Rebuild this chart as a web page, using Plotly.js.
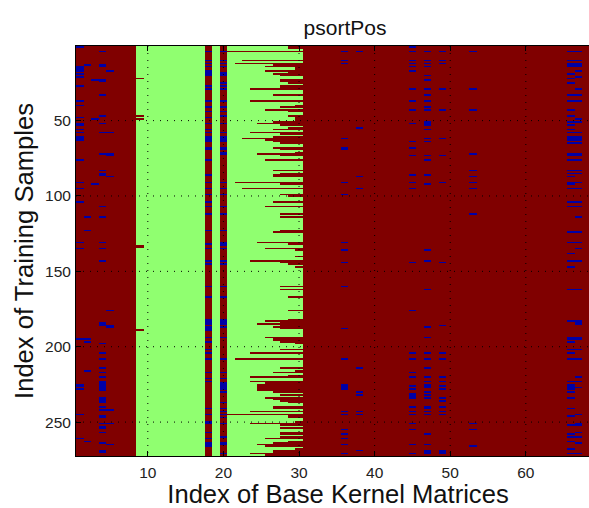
<!DOCTYPE html>
<html><head><meta charset="utf-8">
<script src="https://cdn.plot.ly/plotly-3.0.1.min.js"></script>
<style>html,body{margin:0;padding:0;background:#fff;overflow:hidden}</style></head>
<body><div style="width:589px;height:508px;overflow:hidden"><div id="chart" style="width:600px;height:508px"></div></div>
<script>
const nRows = 272, nCols = 68;
const xTicks = [10,20,30,40,50,60];
const yTicks = [50,100,150,200,250];
const greenCols = [9,10,11,12,13,14,15,16,17,19,21,22,23,24,25,26,27,28,29,30];
// rows in the 21-30 band where red begins, and the column it begins at
const cutRows = [1,2,4,10,12,13,14,15,16,17,18,19,20,23,24,25,27,28,29,33,37,40,41,43,44,47,48,49,50,51,52,53,55,56,58,59,61,62,63,64,65,68,69,71,72,73,76,83,85,86,87,91,92,95,99,100,104,107,112,114,123,124,131,132,135,136,140,143,144,145,147,160,162,167,176,182,183,184,185,186,187,188,194,195,196,197,198,202,204,208,214,216,217,219,220,223,224,225,226,227,228,229,230,232,234,235,236,237,240,241,243,245,246,247,250,251,252,254,257,258,260,261,263,264,265,266,268,269,270,271,272];
const cutCols = [29,29,21,23,22,27,26,30,30,26,29,27,28,28,28,29,28,28,24,27,24,30,28,26,29,29,30,30,30,27,25,28,29,27,24,28,27,23,26,27,28,27,28,30,25,28,26,27,28,27,27,22,28,23,28,29,27,26,28,28,28,27,25,29,26,30,30,24,28,29,30,28,28,29,29,29,26,28,25,28,27,28,26,27,27,28,30,28,24,22,28,30,27,29,24,24,26,25,25,25,25,25,27,28,26,27,28,29,27,27,24,21,29,29,30,24,28,28,28,28,28,26,29,27,25,26,30,27,27,24,26];
const col9Red = [22,47,49,133,134,189];
const blue1 = [1,14,15,16,17,19,21,27,37,40,48,52,53,56,58,61,62,63,76,91,95,104,131,135,195,225,226,228,245,261];
const blue2 = [13,114,123,195,197,216,263];
const blue3 = [23,49,92];
const blue4 = [4,13,14,23,24,33,47,52,58,72,83,85,86,107,114,131,135,143,184,185,186,198,204,208,214,217,220,223,224,225,226,227,228,229,234,235,236,237,240,242,246,247,251,253,254,257,264,269,270];
const blue5 = [17,58,72,73,87,176,186,187,242,251,265];
const blue18 = [4,10,12,14,17,18,19,20,27,29,37,41,44,48,52,56,58,61,62,63,64,68,69,76,86,91,95,99,104,107,112,123,132,135,143,145,160,167,182,183,184,185,187,188,189,194,197,202,204,208,217,221,223,241,245,250,251,257,261,264,265,266];
const blue20 = [4,10,12,14,18,19,20,25,27,29,37,41,44,47,52,58,61,62,63,64,68,69,71,72,91,95,99,107,112,123,131,132,133,135,143,145,160,167,182,183,184,185,187,194,208,217,221,224,225,226,227,228,230,237,241,243,245,247,251,260,264,265,271];
const blue36 = [4,10,12,62,68,69,91,99,131,136,144,160,188,208,225,226,227,228,243,245,255,258,261,265,271];
const blue38 = [4,55,87,95,214,230,232,243,245,269];
const blue45 = [1,4,10,12,14,17,29,37,43,52,64,68,73,86,91,95,144,176,204,208,217,220,226,228,231,232,233,234,240,243,245,251,255,265,271];
const blue47 = [4,10,12,14,20,23,29,33,37,41,43,51,52,53,56,62,64,73,76,86,92,136,143,162,187,194,204,208,214,220,223,225,226,227,230,232,234,240,241,243,245,258,265,269,270,271];
const blue49 = [4,10,12,29,43,62,73,91,144,186,204,208,220,223,226,228,234,236,240,243,245,269,270,271];
const blue53 = [4,29,43,72,83,87,91,95,112,251,255,266];
const blue66 = [4,10,12,13,14,19,22,25,33,37,43,47,51,53,56,58,61,62,63,65,72,73,76,83,85,87,91,92,95,104,107,124,131,138,143,147,162,183,194,195,197,202,204,208,223,225,226,227,228,230,234,241,246,252,258,260,263,268,271];
const blue67 = [4,10,12,13,14,17,21,29,33,37,49,51,58,61,62,63,65,72,73,76,83,85,91,95,104,107,114,124,131,135,143,162,183,184,185,194,195,202,208,220,223,227,245,251,252,257,260,264,271];
const blueCols = [1,2,3,4,5,18,20,36,38,45,47,49,53,66,67];
const blueRows = [blue1,blue2,blue3,blue4,blue5,blue18,blue20,blue36,blue38,blue45,blue47,blue49,blue53,blue66,blue67];

const BLUE=0, GREEN=1, RED=2;
const xs=[],ys=[],z=[];
for(let c=1;c<=nCols;c++) xs.push(c);
for(let r=1;r<=nRows;r++){
  ys.push(r);
  const row=[];
  for(let c=1;c<=nCols;c++) row.push(greenCols.includes(c)?GREEN:RED);
  z.push(row);
}
col9Red.forEach(r=>{z[r-1][8]=RED;});
cutRows.forEach((r,i)=>{for(let c=cutCols[i];c<=30;c++) z[r-1][c-1]=RED;});
blueCols.forEach((c,i)=>blueRows[i].forEach(r=>{z[r-1][c-1]=BLUE;}));

const xEnd=69.81, yEnd=272.5;
const dot={color:'#000',width:1,dash:'1px,6px'};
const shapes=[
  ...xTicks.map(v=>({type:'line',xref:'x',yref:'y',x0:v,x1:v,y0:0.5,y1:yEnd,line:dot,layer:'above'})),
  ...yTicks.map(v=>({type:'line',xref:'x',yref:'y',x0:0.5,x1:xEnd,y0:v,y1:v,line:dot,layer:'above'}))
];
const axisCommon={ticks:'inside',ticklen:5,tickwidth:1,tickcolor:'#000',showline:true,linecolor:'#000',linewidth:1,mirror:'allticks',showgrid:false,zeroline:false,tickfont:{family:'Liberation Sans, Arial, sans-serif',size:15.5,color:'#222'}};
Plotly.newPlot('chart',[{type:'heatmap',x:xs,y:ys,z:z,zmin:0,zmax:2,showscale:false,hoverinfo:'skip',xgap:0,ygap:0,
  colorscale:[[0,'#0000a6'],[0.5,'#90ff70'],[1,'#800000']]}],
{width:600,height:508,margin:{l:76,r:0,t:46,b:52,pad:0},paper_bgcolor:'#fff',plot_bgcolor:'#800000',showlegend:false,
 font:{family:'Liberation Sans, Arial, sans-serif',color:'#111'},shapes:shapes,
 title:{text:'psortPos',font:{size:21,color:'#111'},x:0.575,xanchor:'center',y:0.945,yanchor:'middle'},
 xaxis:Object.assign({},axisCommon,{range:[0.5,xEnd],tickvals:xTicks,ticktext:xTicks.map(String),ticklabelstandoff:2,title:{text:'Index of Base Kernel Matrices',font:{size:25.6,color:'#111'},standoff:2}}),
 yaxis:Object.assign({},axisCommon,{range:[yEnd,0.5],tickvals:yTicks,ticktext:yTicks.map(String),ticklabelstandoff:1,title:{text:'Index of Training Samples',font:{size:25.6,color:'#111'},standoff:4}})
},{displayModeBar:false,staticPlot:true});
</script></body></html>
